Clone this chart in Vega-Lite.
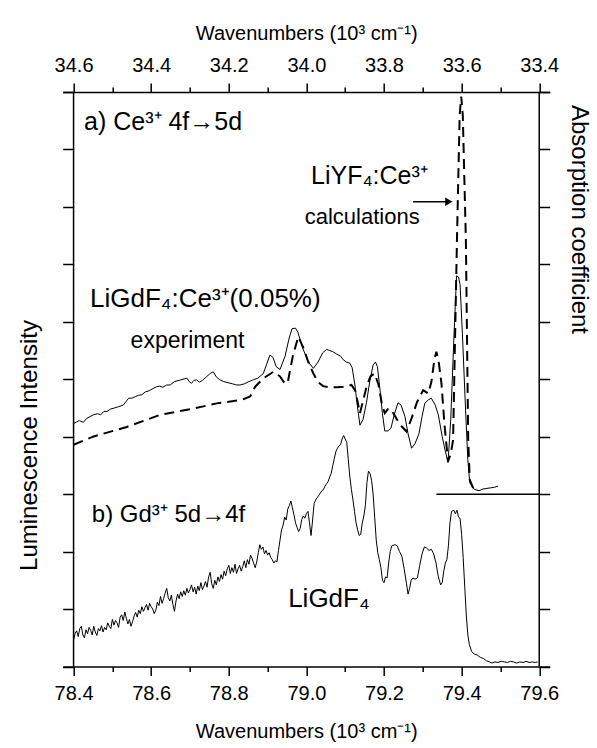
{
  "$schema": "https://vega.github.io/schema/vega-lite/v6.json",
  "autosize": {"type": "none"},
  "padding": {"left": 62.7, "top": 92, "right": 47.3, "bottom": 81.5},
  "width": 487,
  "height": 574.5,
  "background": "white",
  "config": {
    "view": {"stroke": null},
    "font": "Liberation Sans",
    "axis": {"labelFont": "Liberation Sans", "labelFontSize": 20, "labelColor": "black", "titleFont": "Liberation Sans", "titleFontSize": 20, "titleFontWeight": "normal", "titleColor": "black", "tickColor": "black", "domainColor": "black", "tickWidth": 1.5, "domainWidth": 1.5, "grid": false, "labelFlush": false, "labelOverlap": false},
    "text": {"font": "Liberation Sans", "color": "black"}
  },
  "datasets": {
    "frame": [{"w": 78.4, "t": 34.6}, {"w": 79.6, "t": 33.4}],
    "levels": [{"v": 0}, {"v": 10}],
    "spectra": [
      {"series": "baseline", "wn": 79.335, "intensity": 3.0},
      {"series": "baseline", "wn": 79.6, "intensity": 3.0},
      {"series": "experiment", "wn": 78.400, "intensity": 4.23},
      {"series": "experiment", "wn": 78.415, "intensity": 4.28},
      {"series": "experiment", "wn": 78.425, "intensity": 4.25},
      {"series": "experiment", "wn": 78.434, "intensity": 4.32},
      {"series": "experiment", "wn": 78.445, "intensity": 4.36},
      {"series": "experiment", "wn": 78.451, "intensity": 4.38},
      {"series": "experiment", "wn": 78.462, "intensity": 4.40},
      {"series": "experiment", "wn": 78.470, "intensity": 4.38},
      {"series": "experiment", "wn": 78.478, "intensity": 4.44},
      {"series": "experiment", "wn": 78.486, "intensity": 4.44},
      {"series": "experiment", "wn": 78.495, "intensity": 4.48},
      {"series": "experiment", "wn": 78.505, "intensity": 4.50},
      {"series": "experiment", "wn": 78.515, "intensity": 4.52},
      {"series": "experiment", "wn": 78.528, "intensity": 4.55},
      {"series": "experiment", "wn": 78.536, "intensity": 4.62},
      {"series": "experiment", "wn": 78.542, "intensity": 4.67},
      {"series": "experiment", "wn": 78.550, "intensity": 4.67},
      {"series": "experiment", "wn": 78.560, "intensity": 4.70},
      {"series": "experiment", "wn": 78.567, "intensity": 4.72},
      {"series": "experiment", "wn": 78.576, "intensity": 4.73},
      {"series": "experiment", "wn": 78.585, "intensity": 4.78},
      {"series": "experiment", "wn": 78.595, "intensity": 4.80},
      {"series": "experiment", "wn": 78.605, "intensity": 4.84},
      {"series": "experiment", "wn": 78.614, "intensity": 4.87},
      {"series": "experiment", "wn": 78.622, "intensity": 4.88},
      {"series": "experiment", "wn": 78.630, "intensity": 4.86},
      {"series": "experiment", "wn": 78.640, "intensity": 4.90},
      {"series": "experiment", "wn": 78.649, "intensity": 4.90},
      {"series": "experiment", "wn": 78.660, "intensity": 4.96},
      {"series": "experiment", "wn": 78.672, "intensity": 4.98},
      {"series": "experiment", "wn": 78.682, "intensity": 5.00},
      {"series": "experiment", "wn": 78.692, "intensity": 5.02},
      {"series": "experiment", "wn": 78.698, "intensity": 4.96},
      {"series": "experiment", "wn": 78.704, "intensity": 4.93},
      {"series": "experiment", "wn": 78.710, "intensity": 4.98},
      {"series": "experiment", "wn": 78.717, "intensity": 4.99},
      {"series": "experiment", "wn": 78.724, "intensity": 4.95},
      {"series": "experiment", "wn": 78.732, "intensity": 4.98},
      {"series": "experiment", "wn": 78.742, "intensity": 5.04},
      {"series": "experiment", "wn": 78.752, "intensity": 5.10},
      {"series": "experiment", "wn": 78.760, "intensity": 5.13},
      {"series": "experiment", "wn": 78.768, "intensity": 5.04},
      {"series": "experiment", "wn": 78.777, "intensity": 4.99},
      {"series": "experiment", "wn": 78.787, "intensity": 4.96},
      {"series": "experiment", "wn": 78.798, "intensity": 4.94},
      {"series": "experiment", "wn": 78.810, "intensity": 4.92},
      {"series": "experiment", "wn": 78.820, "intensity": 4.90},
      {"series": "experiment", "wn": 78.829, "intensity": 4.90},
      {"series": "experiment", "wn": 78.840, "intensity": 4.92},
      {"series": "experiment", "wn": 78.852, "intensity": 4.96},
      {"series": "experiment", "wn": 78.863, "intensity": 4.99},
      {"series": "experiment", "wn": 78.875, "intensity": 5.02},
      {"series": "experiment", "wn": 78.889, "intensity": 5.10},
      {"series": "experiment", "wn": 78.897, "intensity": 5.25},
      {"series": "experiment", "wn": 78.906, "intensity": 5.42},
      {"series": "experiment", "wn": 78.914, "intensity": 5.38},
      {"series": "experiment", "wn": 78.922, "intensity": 5.22},
      {"series": "experiment", "wn": 78.932, "intensity": 5.17},
      {"series": "experiment", "wn": 78.945, "intensity": 5.40},
      {"series": "experiment", "wn": 78.955, "intensity": 5.70},
      {"series": "experiment", "wn": 78.963, "intensity": 5.88},
      {"series": "experiment", "wn": 78.972, "intensity": 5.89},
      {"series": "experiment", "wn": 78.978, "intensity": 5.82},
      {"series": "experiment", "wn": 78.990, "intensity": 5.55},
      {"series": "experiment", "wn": 79.005, "intensity": 5.30},
      {"series": "experiment", "wn": 79.018, "intensity": 5.19},
      {"series": "experiment", "wn": 79.030, "intensity": 5.30},
      {"series": "experiment", "wn": 79.042, "intensity": 5.46},
      {"series": "experiment", "wn": 79.052, "intensity": 5.52},
      {"series": "experiment", "wn": 79.060, "intensity": 5.50},
      {"series": "experiment", "wn": 79.068, "intensity": 5.48},
      {"series": "experiment", "wn": 79.078, "intensity": 5.44},
      {"series": "experiment", "wn": 79.088, "intensity": 5.40},
      {"series": "experiment", "wn": 79.095, "intensity": 5.34},
      {"series": "experiment", "wn": 79.103, "intensity": 5.30},
      {"series": "experiment", "wn": 79.112, "intensity": 5.28},
      {"series": "experiment", "wn": 79.118, "intensity": 5.20},
      {"series": "experiment", "wn": 79.125, "intensity": 4.90},
      {"series": "experiment", "wn": 79.132, "intensity": 4.50},
      {"series": "experiment", "wn": 79.138, "intensity": 4.20},
      {"series": "experiment", "wn": 79.146, "intensity": 4.30},
      {"series": "experiment", "wn": 79.155, "intensity": 4.60},
      {"series": "experiment", "wn": 79.163, "intensity": 4.95},
      {"series": "experiment", "wn": 79.172, "intensity": 5.25},
      {"series": "experiment", "wn": 79.178, "intensity": 5.30},
      {"series": "experiment", "wn": 79.183, "intensity": 5.22},
      {"series": "experiment", "wn": 79.190, "intensity": 4.80},
      {"series": "experiment", "wn": 79.196, "intensity": 4.40},
      {"series": "experiment", "wn": 79.202, "intensity": 4.10},
      {"series": "experiment", "wn": 79.210, "intensity": 4.10},
      {"series": "experiment", "wn": 79.218, "intensity": 4.15},
      {"series": "experiment", "wn": 79.227, "intensity": 4.40},
      {"series": "experiment", "wn": 79.236, "intensity": 4.59},
      {"series": "experiment", "wn": 79.244, "intensity": 4.55},
      {"series": "experiment", "wn": 79.254, "intensity": 4.35},
      {"series": "experiment", "wn": 79.262, "intensity": 4.05},
      {"series": "experiment", "wn": 79.271, "intensity": 3.80},
      {"series": "experiment", "wn": 79.280, "intensity": 3.88},
      {"series": "experiment", "wn": 79.290, "intensity": 4.05},
      {"series": "experiment", "wn": 79.298, "intensity": 4.35},
      {"series": "experiment", "wn": 79.305, "intensity": 4.58},
      {"series": "experiment", "wn": 79.314, "intensity": 4.64},
      {"series": "experiment", "wn": 79.322, "intensity": 4.67},
      {"series": "experiment", "wn": 79.332, "intensity": 4.55},
      {"series": "experiment", "wn": 79.340, "intensity": 4.38},
      {"series": "experiment", "wn": 79.350, "intensity": 4.00},
      {"series": "experiment", "wn": 79.358, "intensity": 3.75},
      {"series": "experiment", "wn": 79.365, "intensity": 3.55},
      {"series": "experiment", "wn": 79.372, "intensity": 4.30},
      {"series": "experiment", "wn": 79.380, "intensity": 5.70},
      {"series": "experiment", "wn": 79.387, "intensity": 6.80},
      {"series": "experiment", "wn": 79.392, "intensity": 6.78},
      {"series": "experiment", "wn": 79.396, "intensity": 6.65},
      {"series": "experiment", "wn": 79.402, "intensity": 5.80},
      {"series": "experiment", "wn": 79.410, "intensity": 4.50},
      {"series": "experiment", "wn": 79.416, "intensity": 3.60},
      {"series": "experiment", "wn": 79.421, "intensity": 3.20},
      {"series": "experiment", "wn": 79.428, "intensity": 3.12},
      {"series": "experiment", "wn": 79.434, "intensity": 3.08},
      {"series": "experiment", "wn": 79.445, "intensity": 3.06},
      {"series": "experiment", "wn": 79.455, "intensity": 3.09},
      {"series": "experiment", "wn": 79.465, "intensity": 3.10},
      {"series": "experiment", "wn": 79.475, "intensity": 3.11},
      {"series": "experiment", "wn": 79.485, "intensity": 3.12},
      {"series": "experiment", "wn": 79.494, "intensity": 3.14},
      {"series": "calculation", "wn": 78.400, "intensity": 3.86},
      {"series": "calculation", "wn": 78.450, "intensity": 4.00},
      {"series": "calculation", "wn": 78.537, "intensity": 4.17},
      {"series": "calculation", "wn": 78.623, "intensity": 4.38},
      {"series": "calculation", "wn": 78.709, "intensity": 4.49},
      {"series": "calculation", "wn": 78.769, "intensity": 4.58},
      {"series": "calculation", "wn": 78.833, "intensity": 4.64},
      {"series": "calculation", "wn": 78.855, "intensity": 4.70},
      {"series": "calculation", "wn": 78.868, "intensity": 4.87},
      {"series": "calculation", "wn": 78.890, "intensity": 5.02},
      {"series": "calculation", "wn": 78.915, "intensity": 5.13},
      {"series": "calculation", "wn": 78.932, "intensity": 5.05},
      {"series": "calculation", "wn": 78.945, "intensity": 4.92},
      {"series": "calculation", "wn": 78.952, "intensity": 4.95},
      {"series": "calculation", "wn": 78.965, "intensity": 5.40},
      {"series": "calculation", "wn": 78.979, "intensity": 5.74},
      {"series": "calculation", "wn": 78.992, "intensity": 5.55},
      {"series": "calculation", "wn": 79.005, "intensity": 5.30},
      {"series": "calculation", "wn": 79.018, "intensity": 5.10},
      {"series": "calculation", "wn": 79.030, "intensity": 4.95},
      {"series": "calculation", "wn": 79.043, "intensity": 4.88},
      {"series": "calculation", "wn": 79.060, "intensity": 4.86},
      {"series": "calculation", "wn": 79.080, "intensity": 4.86},
      {"series": "calculation", "wn": 79.095, "intensity": 4.87},
      {"series": "calculation", "wn": 79.105, "intensity": 4.88},
      {"series": "calculation", "wn": 79.116, "intensity": 4.90},
      {"series": "calculation", "wn": 79.126, "intensity": 4.80},
      {"series": "calculation", "wn": 79.138, "intensity": 4.41},
      {"series": "calculation", "wn": 79.147, "intensity": 4.65},
      {"series": "calculation", "wn": 79.155, "intensity": 4.87},
      {"series": "calculation", "wn": 79.165, "intensity": 5.05},
      {"series": "calculation", "wn": 79.176, "intensity": 5.10},
      {"series": "calculation", "wn": 79.186, "intensity": 4.90},
      {"series": "calculation", "wn": 79.195, "intensity": 4.55},
      {"series": "calculation", "wn": 79.202, "intensity": 4.41},
      {"series": "calculation", "wn": 79.210, "intensity": 4.48},
      {"series": "calculation", "wn": 79.215, "intensity": 4.49},
      {"series": "calculation", "wn": 79.225, "intensity": 4.40},
      {"series": "calculation", "wn": 79.240, "intensity": 4.22},
      {"series": "calculation", "wn": 79.258, "intensity": 4.09},
      {"series": "calculation", "wn": 79.270, "intensity": 4.30},
      {"series": "calculation", "wn": 79.285, "intensity": 4.60},
      {"series": "calculation", "wn": 79.301, "intensity": 4.81},
      {"series": "calculation", "wn": 79.314, "intensity": 4.75},
      {"series": "calculation", "wn": 79.322, "intensity": 4.95},
      {"series": "calculation", "wn": 79.330, "intensity": 5.35},
      {"series": "calculation", "wn": 79.335, "intensity": 5.48},
      {"series": "calculation", "wn": 79.341, "intensity": 5.30},
      {"series": "calculation", "wn": 79.348, "intensity": 4.93},
      {"series": "calculation", "wn": 79.356, "intensity": 4.20},
      {"series": "calculation", "wn": 79.365, "intensity": 3.57},
      {"series": "calculation", "wn": 79.372, "intensity": 3.70},
      {"series": "calculation", "wn": 79.378, "intensity": 3.94},
      {"series": "calculation", "wn": 79.388, "intensity": 7.42},
      {"series": "calculation", "wn": 79.395, "intensity": 9.60},
      {"series": "calculation", "wn": 79.399, "intensity": 9.92},
      {"series": "calculation", "wn": 79.403, "intensity": 9.60},
      {"series": "calculation", "wn": 79.411, "intensity": 7.42},
      {"series": "calculation", "wn": 79.417, "intensity": 3.94},
      {"series": "calculation", "wn": 79.421, "intensity": 3.25},
      {"series": "calculation", "wn": 79.430, "intensity": 3.10},
      {"series": "calculation", "wn": 79.440, "intensity": 3.04},
      {"series": "gd", "wn": 78.400, "intensity": 0.46},
      {"series": "gd", "wn": 78.404, "intensity": 0.58},
      {"series": "gd", "wn": 78.408, "intensity": 0.62},
      {"series": "gd", "wn": 78.412, "intensity": 0.52},
      {"series": "gd", "wn": 78.416, "intensity": 0.66},
      {"series": "gd", "wn": 78.420, "intensity": 0.70},
      {"series": "gd", "wn": 78.424, "intensity": 0.55},
      {"series": "gd", "wn": 78.428, "intensity": 0.50},
      {"series": "gd", "wn": 78.432, "intensity": 0.64},
      {"series": "gd", "wn": 78.436, "intensity": 0.57},
      {"series": "gd", "wn": 78.440, "intensity": 0.68},
      {"series": "gd", "wn": 78.444, "intensity": 0.63},
      {"series": "gd", "wn": 78.448, "intensity": 0.55},
      {"series": "gd", "wn": 78.452, "intensity": 0.70},
      {"series": "gd", "wn": 78.456, "intensity": 0.60},
      {"series": "gd", "wn": 78.460, "intensity": 0.54},
      {"series": "gd", "wn": 78.464, "intensity": 0.66},
      {"series": "gd", "wn": 78.468, "intensity": 0.62},
      {"series": "gd", "wn": 78.472, "intensity": 0.71},
      {"series": "gd", "wn": 78.476, "intensity": 0.60},
      {"series": "gd", "wn": 78.480, "intensity": 0.68},
      {"series": "gd", "wn": 78.484, "intensity": 0.64},
      {"series": "gd", "wn": 78.488, "intensity": 0.76},
      {"series": "gd", "wn": 78.492, "intensity": 0.70},
      {"series": "gd", "wn": 78.496, "intensity": 0.66},
      {"series": "gd", "wn": 78.500, "intensity": 0.82},
      {"series": "gd", "wn": 78.504, "intensity": 0.72},
      {"series": "gd", "wn": 78.508, "intensity": 0.80},
      {"series": "gd", "wn": 78.512, "intensity": 0.76},
      {"series": "gd", "wn": 78.516, "intensity": 0.68},
      {"series": "gd", "wn": 78.520, "intensity": 0.86},
      {"series": "gd", "wn": 78.524, "intensity": 0.90},
      {"series": "gd", "wn": 78.528, "intensity": 0.80},
      {"series": "gd", "wn": 78.532, "intensity": 0.95},
      {"series": "gd", "wn": 78.536, "intensity": 0.84},
      {"series": "gd", "wn": 78.540, "intensity": 0.74},
      {"series": "gd", "wn": 78.544, "intensity": 0.82},
      {"series": "gd", "wn": 78.548, "intensity": 0.70},
      {"series": "gd", "wn": 78.552, "intensity": 0.78},
      {"series": "gd", "wn": 78.556, "intensity": 0.88},
      {"series": "gd", "wn": 78.560, "intensity": 0.94},
      {"series": "gd", "wn": 78.564, "intensity": 0.86},
      {"series": "gd", "wn": 78.568, "intensity": 0.98},
      {"series": "gd", "wn": 78.572, "intensity": 0.92},
      {"series": "gd", "wn": 78.576, "intensity": 1.04},
      {"series": "gd", "wn": 78.580, "intensity": 0.96},
      {"series": "gd", "wn": 78.584, "intensity": 1.02},
      {"series": "gd", "wn": 78.588, "intensity": 1.08},
      {"series": "gd", "wn": 78.592, "intensity": 0.98},
      {"series": "gd", "wn": 78.596, "intensity": 1.10},
      {"series": "gd", "wn": 78.600, "intensity": 1.04},
      {"series": "gd", "wn": 78.604, "intensity": 1.00},
      {"series": "gd", "wn": 78.608, "intensity": 0.92},
      {"series": "gd", "wn": 78.612, "intensity": 0.98},
      {"series": "gd", "wn": 78.616, "intensity": 1.12},
      {"series": "gd", "wn": 78.620, "intensity": 1.06},
      {"series": "gd", "wn": 78.624, "intensity": 1.22},
      {"series": "gd", "wn": 78.628, "intensity": 1.10},
      {"series": "gd", "wn": 78.632, "intensity": 1.18},
      {"series": "gd", "wn": 78.636, "intensity": 1.28},
      {"series": "gd", "wn": 78.640, "intensity": 1.36},
      {"series": "gd", "wn": 78.644, "intensity": 1.20},
      {"series": "gd", "wn": 78.648, "intensity": 1.14},
      {"series": "gd", "wn": 78.652, "intensity": 1.24},
      {"series": "gd", "wn": 78.656, "intensity": 1.08},
      {"series": "gd", "wn": 78.660, "intensity": 0.96},
      {"series": "gd", "wn": 78.664, "intensity": 1.14},
      {"series": "gd", "wn": 78.668, "intensity": 1.26},
      {"series": "gd", "wn": 78.672, "intensity": 1.18},
      {"series": "gd", "wn": 78.676, "intensity": 1.30},
      {"series": "gd", "wn": 78.680, "intensity": 1.22},
      {"series": "gd", "wn": 78.684, "intensity": 1.32},
      {"series": "gd", "wn": 78.688, "intensity": 1.24},
      {"series": "gd", "wn": 78.692, "intensity": 1.36},
      {"series": "gd", "wn": 78.696, "intensity": 1.28},
      {"series": "gd", "wn": 78.700, "intensity": 1.34},
      {"series": "gd", "wn": 78.704, "intensity": 1.42},
      {"series": "gd", "wn": 78.708, "intensity": 1.30},
      {"series": "gd", "wn": 78.712, "intensity": 1.38},
      {"series": "gd", "wn": 78.716, "intensity": 1.26},
      {"series": "gd", "wn": 78.720, "intensity": 1.40},
      {"series": "gd", "wn": 78.724, "intensity": 1.32},
      {"series": "gd", "wn": 78.728, "intensity": 1.46},
      {"series": "gd", "wn": 78.732, "intensity": 1.34},
      {"series": "gd", "wn": 78.736, "intensity": 1.40},
      {"series": "gd", "wn": 78.740, "intensity": 1.48},
      {"series": "gd", "wn": 78.744, "intensity": 1.38},
      {"series": "gd", "wn": 78.748, "intensity": 1.56},
      {"series": "gd", "wn": 78.752, "intensity": 1.64},
      {"series": "gd", "wn": 78.756, "intensity": 1.44},
      {"series": "gd", "wn": 78.760, "intensity": 1.36},
      {"series": "gd", "wn": 78.764, "intensity": 1.50},
      {"series": "gd", "wn": 78.768, "intensity": 1.42},
      {"series": "gd", "wn": 78.772, "intensity": 1.56},
      {"series": "gd", "wn": 78.776, "intensity": 1.48},
      {"series": "gd", "wn": 78.780, "intensity": 1.60},
      {"series": "gd", "wn": 78.784, "intensity": 1.52},
      {"series": "gd", "wn": 78.788, "intensity": 1.66},
      {"series": "gd", "wn": 78.792, "intensity": 1.58},
      {"series": "gd", "wn": 78.796, "intensity": 1.70},
      {"series": "gd", "wn": 78.800, "intensity": 1.76},
      {"series": "gd", "wn": 78.804, "intensity": 1.62},
      {"series": "gd", "wn": 78.808, "intensity": 1.72},
      {"series": "gd", "wn": 78.812, "intensity": 1.64},
      {"series": "gd", "wn": 78.816, "intensity": 1.78},
      {"series": "gd", "wn": 78.820, "intensity": 1.62},
      {"series": "gd", "wn": 78.824, "intensity": 1.70},
      {"series": "gd", "wn": 78.828, "intensity": 1.76},
      {"series": "gd", "wn": 78.832, "intensity": 1.66},
      {"series": "gd", "wn": 78.836, "intensity": 1.74},
      {"series": "gd", "wn": 78.840, "intensity": 1.84},
      {"series": "gd", "wn": 78.844, "intensity": 1.72},
      {"series": "gd", "wn": 78.848, "intensity": 1.86},
      {"series": "gd", "wn": 78.852, "intensity": 1.78},
      {"series": "gd", "wn": 78.856, "intensity": 1.94},
      {"series": "gd", "wn": 78.860, "intensity": 1.88},
      {"series": "gd", "wn": 78.864, "intensity": 1.80},
      {"series": "gd", "wn": 78.868, "intensity": 1.72},
      {"series": "gd", "wn": 78.872, "intensity": 1.82},
      {"series": "gd", "wn": 78.876, "intensity": 1.98},
      {"series": "gd", "wn": 78.880, "intensity": 2.12},
      {"series": "gd", "wn": 78.884, "intensity": 2.04},
      {"series": "gd", "wn": 78.888, "intensity": 2.08},
      {"series": "gd", "wn": 78.892, "intensity": 1.96},
      {"series": "gd", "wn": 78.896, "intensity": 2.02},
      {"series": "gd", "wn": 78.900, "intensity": 1.94},
      {"series": "gd", "wn": 78.904, "intensity": 1.98},
      {"series": "gd", "wn": 78.908, "intensity": 1.90},
      {"series": "gd", "wn": 78.912, "intensity": 1.86},
      {"series": "gd", "wn": 78.916, "intensity": 1.80},
      {"series": "gd", "wn": 78.920, "intensity": 1.84},
      {"series": "gd", "wn": 78.924, "intensity": 1.82},
      {"series": "gd", "wn": 78.928, "intensity": 2.02},
      {"series": "gd", "wn": 78.932, "intensity": 2.20},
      {"series": "gd", "wn": 78.936, "intensity": 2.38},
      {"series": "gd", "wn": 78.940, "intensity": 2.46},
      {"series": "gd", "wn": 78.944, "intensity": 2.60},
      {"series": "gd", "wn": 78.948, "intensity": 2.55},
      {"series": "gd", "wn": 78.952, "intensity": 2.74},
      {"series": "gd", "wn": 78.956, "intensity": 2.80},
      {"series": "gd", "wn": 78.960, "intensity": 2.88},
      {"series": "gd", "wn": 78.964, "intensity": 2.76},
      {"series": "gd", "wn": 78.968, "intensity": 2.64},
      {"series": "gd", "wn": 78.972, "intensity": 2.50},
      {"series": "gd", "wn": 78.976, "intensity": 2.42},
      {"series": "gd", "wn": 78.980, "intensity": 2.35},
      {"series": "gd", "wn": 78.984, "intensity": 2.40},
      {"series": "gd", "wn": 78.988, "intensity": 2.56},
      {"series": "gd", "wn": 78.992, "intensity": 2.62},
      {"series": "gd", "wn": 78.996, "intensity": 2.58},
      {"series": "gd", "wn": 79.000, "intensity": 2.66},
      {"series": "gd", "wn": 79.004, "intensity": 2.70},
      {"series": "gd", "wn": 79.008, "intensity": 2.50},
      {"series": "gd", "wn": 79.012, "intensity": 2.28},
      {"series": "gd", "wn": 79.016, "intensity": 2.55},
      {"series": "gd", "wn": 79.020, "intensity": 2.84},
      {"series": "gd", "wn": 79.024, "intensity": 2.90},
      {"series": "gd", "wn": 79.028, "intensity": 2.94},
      {"series": "gd", "wn": 79.032, "intensity": 2.98},
      {"series": "gd", "wn": 79.036, "intensity": 3.02},
      {"series": "gd", "wn": 79.040, "intensity": 3.06},
      {"series": "gd", "wn": 79.044, "intensity": 3.08},
      {"series": "gd", "wn": 79.048, "intensity": 3.14},
      {"series": "gd", "wn": 79.052, "intensity": 3.18},
      {"series": "gd", "wn": 79.056, "intensity": 3.22},
      {"series": "gd", "wn": 79.060, "intensity": 3.30},
      {"series": "gd", "wn": 79.064, "intensity": 3.36},
      {"series": "gd", "wn": 79.068, "intensity": 3.50},
      {"series": "gd", "wn": 79.072, "intensity": 3.62},
      {"series": "gd", "wn": 79.076, "intensity": 3.74},
      {"series": "gd", "wn": 79.080, "intensity": 3.80},
      {"series": "gd", "wn": 79.084, "intensity": 3.84},
      {"series": "gd", "wn": 79.088, "intensity": 3.86},
      {"series": "gd", "wn": 79.092, "intensity": 3.96},
      {"series": "gd", "wn": 79.096, "intensity": 4.02},
      {"series": "gd", "wn": 79.100, "intensity": 3.96},
      {"series": "gd", "wn": 79.104, "intensity": 3.90},
      {"series": "gd", "wn": 79.108, "intensity": 3.60},
      {"series": "gd", "wn": 79.112, "intensity": 3.30},
      {"series": "gd", "wn": 79.116, "intensity": 3.08},
      {"series": "gd", "wn": 79.120, "intensity": 2.90},
      {"series": "gd", "wn": 79.124, "intensity": 2.70},
      {"series": "gd", "wn": 79.128, "intensity": 2.50},
      {"series": "gd", "wn": 79.132, "intensity": 2.38},
      {"series": "gd", "wn": 79.136, "intensity": 2.28},
      {"series": "gd", "wn": 79.140, "intensity": 2.30},
      {"series": "gd", "wn": 79.144, "intensity": 2.50},
      {"series": "gd", "wn": 79.148, "intensity": 2.62},
      {"series": "gd", "wn": 79.152, "intensity": 2.80},
      {"series": "gd", "wn": 79.156, "intensity": 3.20},
      {"series": "gd", "wn": 79.160, "intensity": 3.40},
      {"series": "gd", "wn": 79.164, "intensity": 3.36},
      {"series": "gd", "wn": 79.168, "intensity": 3.24},
      {"series": "gd", "wn": 79.172, "intensity": 3.00},
      {"series": "gd", "wn": 79.176, "intensity": 2.60},
      {"series": "gd", "wn": 79.180, "intensity": 2.20},
      {"series": "gd", "wn": 79.184, "intensity": 1.98},
      {"series": "gd", "wn": 79.188, "intensity": 1.86},
      {"series": "gd", "wn": 79.192, "intensity": 1.72},
      {"series": "gd", "wn": 79.196, "intensity": 1.50},
      {"series": "gd", "wn": 79.200, "intensity": 1.46},
      {"series": "gd", "wn": 79.204, "intensity": 1.56},
      {"series": "gd", "wn": 79.208, "intensity": 1.54},
      {"series": "gd", "wn": 79.212, "intensity": 1.80},
      {"series": "gd", "wn": 79.216, "intensity": 2.00},
      {"series": "gd", "wn": 79.220, "intensity": 2.10},
      {"series": "gd", "wn": 79.228, "intensity": 2.12},
      {"series": "gd", "wn": 79.234, "intensity": 2.10},
      {"series": "gd", "wn": 79.240, "intensity": 2.00},
      {"series": "gd", "wn": 79.246, "intensity": 1.92},
      {"series": "gd", "wn": 79.252, "intensity": 1.70},
      {"series": "gd", "wn": 79.258, "intensity": 1.44},
      {"series": "gd", "wn": 79.262, "intensity": 1.26},
      {"series": "gd", "wn": 79.266, "intensity": 1.36},
      {"series": "gd", "wn": 79.270, "intensity": 1.50},
      {"series": "gd", "wn": 79.274, "intensity": 1.54},
      {"series": "gd", "wn": 79.280, "intensity": 1.52},
      {"series": "gd", "wn": 79.286, "intensity": 1.54},
      {"series": "gd", "wn": 79.292, "intensity": 1.76},
      {"series": "gd", "wn": 79.298, "intensity": 1.96},
      {"series": "gd", "wn": 79.304, "intensity": 2.08},
      {"series": "gd", "wn": 79.310, "intensity": 2.06},
      {"series": "gd", "wn": 79.316, "intensity": 2.02},
      {"series": "gd", "wn": 79.322, "intensity": 2.04},
      {"series": "gd", "wn": 79.328, "intensity": 1.96},
      {"series": "gd", "wn": 79.334, "intensity": 1.80},
      {"series": "gd", "wn": 79.340, "intensity": 1.56},
      {"series": "gd", "wn": 79.346, "intensity": 1.42},
      {"series": "gd", "wn": 79.350, "intensity": 1.46},
      {"series": "gd", "wn": 79.354, "intensity": 1.66},
      {"series": "gd", "wn": 79.358, "intensity": 1.80},
      {"series": "gd", "wn": 79.362, "intensity": 1.86},
      {"series": "gd", "wn": 79.366, "intensity": 2.10},
      {"series": "gd", "wn": 79.370, "intensity": 2.50},
      {"series": "gd", "wn": 79.374, "intensity": 2.70},
      {"series": "gd", "wn": 79.380, "intensity": 2.72},
      {"series": "gd", "wn": 79.384, "intensity": 2.66},
      {"series": "gd", "wn": 79.388, "intensity": 2.72},
      {"series": "gd", "wn": 79.392, "intensity": 2.60},
      {"series": "gd", "wn": 79.396, "intensity": 2.58},
      {"series": "gd", "wn": 79.400, "intensity": 2.30},
      {"series": "gd", "wn": 79.404, "intensity": 1.90},
      {"series": "gd", "wn": 79.408, "intensity": 1.40},
      {"series": "gd", "wn": 79.412, "intensity": 0.90},
      {"series": "gd", "wn": 79.416, "intensity": 0.55},
      {"series": "gd", "wn": 79.420, "intensity": 0.38},
      {"series": "gd", "wn": 79.426, "intensity": 0.26},
      {"series": "gd", "wn": 79.432, "intensity": 0.22},
      {"series": "gd", "wn": 79.440, "intensity": 0.20},
      {"series": "gd", "wn": 79.448, "intensity": 0.16},
      {"series": "gd", "wn": 79.456, "intensity": 0.14},
      {"series": "gd", "wn": 79.464, "intensity": 0.10},
      {"series": "gd", "wn": 79.472, "intensity": 0.08},
      {"series": "gd", "wn": 79.478, "intensity": 0.06},
      {"series": "gd", "wn": 79.486, "intensity": 0.08},
      {"series": "gd", "wn": 79.494, "intensity": 0.07},
      {"series": "gd", "wn": 79.502, "intensity": 0.09},
      {"series": "gd", "wn": 79.510, "intensity": 0.08},
      {"series": "gd", "wn": 79.518, "intensity": 0.07},
      {"series": "gd", "wn": 79.526, "intensity": 0.09},
      {"series": "gd", "wn": 79.534, "intensity": 0.08},
      {"series": "gd", "wn": 79.542, "intensity": 0.06},
      {"series": "gd", "wn": 79.550, "intensity": 0.08},
      {"series": "gd", "wn": 79.558, "intensity": 0.07},
      {"series": "gd", "wn": 79.566, "intensity": 0.09},
      {"series": "gd", "wn": 79.574, "intensity": 0.07},
      {"series": "gd", "wn": 79.582, "intensity": 0.08},
      {"series": "gd", "wn": 79.590, "intensity": 0.07},
      {"series": "gd", "wn": 79.596, "intensity": 0.08}
    ]
  },
  "layer": [
    {
      "layer": [
        {
          "data": {"name": "frame"},
          "mark": {"type": "rule", "color": "black", "strokeWidth": 1.5},
          "encoding": {
            "x": {"field": "w", "type": "quantitative", "scale": {"domain": [78.372, 79.627], "nice": false, "zero": false},
              "axis": {"orient": "bottom", "values": [78.4, 78.6, 78.8, 79.0, 79.2, 79.4, 79.6], "format": ".1f", "tickSize": 9, "labelPadding": 8, "title": "Wavenumbers (10³ cm⁻¹)", "titlePadding": 18}}
          }
        },
        {
          "data": {"name": "frame"},
          "mark": {"type": "rule", "opacity": 0},
          "encoding": {
            "x": {"field": "w", "type": "quantitative", "scale": {"domain": [78.372, 79.627], "nice": false, "zero": false},
              "axis": {"orient": "bottom", "values": [78.5, 78.7, 78.9, 79.1, 79.3, 79.5], "tickSize": 5, "labels": false, "domain": false, "title": null}}
          }
        },
        {
          "data": {"name": "levels"},
          "mark": {"type": "rule", "opacity": 0},
          "encoding": {
            "y": {"field": "v", "type": "quantitative", "scale": {"domain": [0, 10], "nice": false, "zero": false},
              "axis": {"orient": "left", "values": [0, 1, 2, 3, 4, 5, 6, 7, 8, 9, 10], "tickSize": -11, "labels": false, "domain": false, "title": "Luminescence Intensity", "titleFontSize": 24, "titleX": -33, "titleY": 353, "titleBaseline": "middle", "titleAngle": 270}}
          }
        },
        {
          "data": {"name": "levels"},
          "mark": {"type": "rule", "opacity": 0},
          "encoding": {
            "y": {"field": "v", "type": "quantitative", "scale": {"domain": [0, 10], "nice": false, "zero": false},
              "axis": {"orient": "right", "values": [0, 1, 2, 3, 4, 5, 6, 7, 8, 9, 10], "tickSize": -10.5, "labels": false, "domain": false, "title": "Absorption coefficient", "titleFontSize": 24, "titleX": 29, "titleY": 127, "titleBaseline": "middle", "titleAngle": 90}}
          }
        },
        {
          "data": {"name": "spectra"},
          "transform": [{"filter": "datum.series === 'baseline'"}],
          "mark": {"type": "line", "color": "black", "strokeWidth": 1.5},
          "encoding": {
            "x": {"field": "wn", "type": "quantitative", "scale": {"domain": [78.372, 79.627], "nice": false, "zero": false}, "axis": null},
            "y": {"field": "intensity", "type": "quantitative", "scale": {"domain": [0, 10], "nice": false, "zero": false}, "axis": null}
          }
        },
        {
          "data": {"name": "spectra"},
          "transform": [{"filter": "datum.series === 'experiment'"}],
          "mark": {"type": "line", "color": "black", "strokeWidth": 1},
          "encoding": {
            "x": {"field": "wn", "type": "quantitative", "scale": {"domain": [78.372, 79.627], "nice": false, "zero": false}, "axis": null},
            "y": {"field": "intensity", "type": "quantitative", "scale": {"domain": [0, 10], "nice": false, "zero": false}, "axis": null}
          }
        },
        {
          "data": {"name": "spectra"},
          "transform": [{"filter": "datum.series === 'calculation'"}],
          "mark": {"type": "line", "color": "black", "strokeWidth": 2, "strokeDash": [10, 6]},
          "encoding": {
            "x": {"field": "wn", "type": "quantitative", "scale": {"domain": [78.372, 79.627], "nice": false, "zero": false}, "axis": null},
            "y": {"field": "intensity", "type": "quantitative", "scale": {"domain": [0, 10], "nice": false, "zero": false}, "axis": null}
          }
        },
        {
          "data": {"name": "spectra"},
          "transform": [{"filter": "datum.series === 'gd'"}],
          "mark": {"type": "line", "color": "black", "strokeWidth": 1},
          "encoding": {
            "x": {"field": "wn", "type": "quantitative", "scale": {"domain": [78.372, 79.627], "nice": false, "zero": false}, "axis": null},
            "y": {"field": "intensity", "type": "quantitative", "scale": {"domain": [0, 10], "nice": false, "zero": false}, "axis": null}
          }
        },
        {
          "data": {"values": [{}]},
          "mark": {"type": "rule", "color": "black", "strokeWidth": 1.5},
          "encoding": {
            "x": {"datum": 79.275, "type": "quantitative", "scale": {"domain": [78.372, 79.627], "nice": false, "zero": false}, "axis": null},
            "x2": {"datum": 79.368},
            "y": {"datum": 8.09, "type": "quantitative", "scale": {"domain": [0, 10], "nice": false, "zero": false}, "axis": null}
          }
        },
        {
          "data": {"values": [{}]},
          "mark": {"type": "point", "shape": "triangle-right", "filled": true, "color": "black", "size": 70, "opacity": 1},
          "encoding": {
            "x": {"datum": 79.367, "type": "quantitative", "scale": {"domain": [78.372, 79.627], "nice": false, "zero": false}, "axis": null},
            "y": {"datum": 8.09, "type": "quantitative", "scale": {"domain": [0, 10], "nice": false, "zero": false}, "axis": null}
          }
        },
        {
          "data": {"values": [{}]},
          "mark": {"type": "text", "text": "a) Ce³⁺ 4f→5d", "fontSize": 25, "align": "left", "baseline": "alphabetic"},
          "encoding": {
            "x": {"datum": 78.427, "type": "quantitative", "scale": {"domain": [78.372, 79.627], "nice": false, "zero": false}, "axis": null},
            "y": {"datum": 9.34, "type": "quantitative", "scale": {"domain": [0, 10], "nice": false, "zero": false}, "axis": null}
          }
        },
        {
          "data": {"values": [{}]},
          "mark": {"type": "text", "text": "LiYF₄:Ce³⁺", "fontSize": 25, "align": "right", "baseline": "alphabetic"},
          "encoding": {
            "x": {"datum": 79.313, "type": "quantitative", "scale": {"domain": [78.372, 79.627], "nice": false, "zero": false}, "axis": null},
            "y": {"datum": 8.40, "type": "quantitative", "scale": {"domain": [0, 10], "nice": false, "zero": false}, "axis": null}
          }
        },
        {
          "data": {"values": [{}]},
          "mark": {"type": "text", "text": "calculations", "fontSize": 22, "align": "right", "baseline": "alphabetic"},
          "encoding": {
            "x": {"datum": 79.292, "type": "quantitative", "scale": {"domain": [78.372, 79.627], "nice": false, "zero": false}, "axis": null},
            "y": {"datum": 7.71, "type": "quantitative", "scale": {"domain": [0, 10], "nice": false, "zero": false}, "axis": null}
          }
        },
        {
          "data": {"values": [{}]},
          "mark": {"type": "text", "text": "LiGdF₄:Ce³⁺(0.05%)", "fontSize": 26, "align": "left", "baseline": "alphabetic"},
          "encoding": {
            "x": {"datum": 78.4425, "type": "quantitative", "scale": {"domain": [78.372, 79.627], "nice": false, "zero": false}, "axis": null},
            "y": {"datum": 6.26, "type": "quantitative", "scale": {"domain": [0, 10], "nice": false, "zero": false}, "axis": null}
          }
        },
        {
          "data": {"values": [{}]},
          "mark": {"type": "text", "text": "experiment", "fontSize": 23, "align": "center", "baseline": "alphabetic"},
          "encoding": {
            "x": {"datum": 78.6936, "type": "quantitative", "scale": {"domain": [78.372, 79.627], "nice": false, "zero": false}, "axis": null},
            "y": {"datum": 5.54, "type": "quantitative", "scale": {"domain": [0, 10], "nice": false, "zero": false}, "axis": null}
          }
        },
        {
          "data": {"values": [{}]},
          "mark": {"type": "text", "text": "b) Gd³⁺ 5d→4f", "fontSize": 24, "align": "left", "baseline": "alphabetic"},
          "encoding": {
            "x": {"datum": 78.447, "type": "quantitative", "scale": {"domain": [78.372, 79.627], "nice": false, "zero": false}, "axis": null},
            "y": {"datum": 2.52, "type": "quantitative", "scale": {"domain": [0, 10], "nice": false, "zero": false}, "axis": null}
          }
        },
        {
          "data": {"values": [{}]},
          "mark": {"type": "text", "text": "LiGdF₄", "fontSize": 26, "align": "left", "baseline": "alphabetic"},
          "encoding": {
            "x": {"datum": 78.953, "type": "quantitative", "scale": {"domain": [78.372, 79.627], "nice": false, "zero": false}, "axis": null},
            "y": {"datum": 1.04, "type": "quantitative", "scale": {"domain": [0, 10], "nice": false, "zero": false}, "axis": null}
          }
        }
      ],
      "resolve": {"axis": {"x": "independent", "y": "independent"}}
    },
    {
      "layer": [
        {
          "data": {"name": "frame"},
          "mark": {"type": "rule", "opacity": 0},
          "encoding": {
            "x": {"field": "t", "type": "quantitative", "scale": {"domain": [34.628, 33.373], "nice": false, "zero": false},
              "axis": {"orient": "top", "values": [34.6, 34.4, 34.2, 34.0, 33.8, 33.6, 33.4], "format": ".1f", "tickSize": 9, "labelPadding": 8, "title": "Wavenumbers (10³ cm⁻¹)", "titlePadding": 12}}
          }
        },
        {
          "data": {"name": "frame"},
          "mark": {"type": "rule", "opacity": 0},
          "encoding": {
            "x": {"field": "t", "type": "quantitative", "scale": {"domain": [34.628, 33.373], "nice": false, "zero": false},
              "axis": {"orient": "top", "values": [34.5, 34.3, 34.1, 33.9, 33.7, 33.5], "tickSize": 5, "labels": false, "domain": false, "title": null}}
          }
        }
      ],
      "resolve": {"axis": {"x": "independent"}}
    }
  ],
  "resolve": {"scale": {"x": "independent"}}
}
